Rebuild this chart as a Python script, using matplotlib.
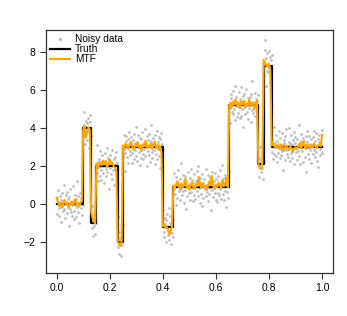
import numpy as np
import matplotlib
matplotlib.use("Agg")
import matplotlib.pyplot as plt
from matplotlib.lines import Line2D

plt.rcParams["font.family"] = ["Liberation Sans", "DejaVu Sans"]

# step function (truth): breakpoints and levels
breaks = [0.0, 0.10, 0.13, 0.15, 0.23, 0.25, 0.40, 0.44, 0.65, 0.76, 0.78, 0.81, 1.0]
levels = [0.0, 4.0, -1.0, 2.0, -2.0, 3.0, -1.2, 0.9, 5.2, 2.1, 7.3, 3.0]

noise = [
    0.31, -0.52, 0.08, 0.77, -0.19, -0.64, 0.42, 0.05, -0.91, 0.23, 0.58, -0.11, -0.36, 1.04, -0.27, 0.14, -0.72, 0.49, 0.02, -0.45,
    0.66, -0.08, 0.29, -1.12, 0.37, -0.23, 0.81, -0.41, 0.12, -0.59, 0.95, 0.18, -0.33, -0.77, 0.51, -0.04, 0.26, -0.68, 1.21, -0.15,
    -0.38, 0.44, -0.96, 0.09, 0.62, -0.21, 0.33, -0.55, 0.73, -0.02, -0.47, 0.19, 0.87, -0.31, -0.83, 0.40, 0.06, -0.63, 0.28, 0.54,
    -0.17, -1.05, 0.35, 0.71, -0.43, 0.13, -0.26, 0.92, -0.69, 0.21, 0.47, -0.12, -0.58, 0.64, 0.01, -0.34, 1.13, -0.79, 0.24, -0.06,
    0.39, -0.49, 0.83, -0.22, -0.71, 0.16, 0.57, -0.37, 0.03, -0.88, 0.69, 0.27, -0.14, -0.53, 0.98, -0.29, 0.11, 0.45, -1.18, 0.32,
    -0.07, 0.61, -0.41, 0.22, -0.66, 0.86, -0.18, 0.36, -0.97, 0.48, 0.07, -0.32, 0.74, -0.56, 0.15, 1.32, -0.24, -0.61, 0.52, -0.03,
    0.25, -0.74, 0.43, -0.16, 0.91, -0.44, -0.09, 0.67, -0.28, -1.26, 0.34, 0.59, -0.51, 0.10, -0.85, 0.46, 0.78, -0.20, -0.39, 0.17,
    0.55, -0.30, -0.82, 0.38, 0.04, 0.72, -0.60, 0.20, -0.13, 1.08, -0.46, 0.30, -0.70, 0.63, -0.25, -0.01, 0.50, -0.93, 0.41, -0.54,
    0.12, 0.80, -0.35, -0.62, 0.27, -0.10, 0.96, -0.48, 0.18, 0.60, -1.01, 0.37, -0.20, 0.70, -0.42, 0.05, -0.78, 0.32, 1.17, -0.26,
    -0.57, 0.21, 0.49, -0.15, -0.89, 0.64, 0.00, -0.37, 0.85, -0.64, 0.28, 0.11, -0.45, 0.53, -1.09, 0.42, -0.05, 0.76, -0.31, 0.19,
    0.88, -0.24, -0.53, 0.46, 0.14, -0.76, 0.35, -0.04, 0.68, -0.39, -0.13, 1.02, -0.67, 0.24, 0.56, -0.87, 0.09, -0.29, 0.40, -0.50,
    -0.11, 0.75, -0.34, 0.03, -0.95, 0.52, 0.31, -0.58, 0.17, 0.89, -0.22, -0.70, 0.44, -0.08, 1.26, -0.41, 0.13, -0.19, 0.62, -0.84,
    0.36, -0.14, 0.58, -1.15, 0.26, 0.07, -0.49, 0.79, -0.33, 0.15, -0.66, 0.47, 0.94, -0.27, -0.02, 0.39, -0.74, 0.22, -0.40, 0.67,
    0.06, -0.62, 0.33, 0.84, -0.18, -0.45, 1.11, -0.05, 0.29, -0.81, 0.50, -0.35, 0.16, -0.99, 0.71, 0.20, -0.56, 0.43, -0.12, 0.08,
    -0.46, 0.97, -0.23, 0.12, 0.63, -0.72, 0.25, -0.36, -0.06, 0.54, -1.22, 0.38, 0.82, -0.16, -0.52, 0.30, 0.01, -0.28, 0.73, -0.65,
    0.41, 0.10, -0.80, 0.57, -0.30, 0.18, -0.43, 0.90, -0.09, -0.61, 0.34, 1.19, -0.38, 0.05, -0.69, 0.48, -0.21, 0.66, -1.03, 0.23,
    -0.25, 0.53, 0.14, -0.55, 0.86, -0.12, -0.92, 0.37, 0.60, -0.32, 0.08, -0.47, 0.77, -0.17, 0.28, -0.78, 1.05, -0.03, 0.45, -0.60,
    0.19, -0.39, 0.70, -0.07, -0.64, 0.32, 0.99, -0.53, 0.13, -0.20, 0.51, -1.14, 0.26, 0.61, -0.44, -0.10, 0.85, -0.34, 0.04, 0.39,
    -0.73, 0.27, -0.15, 0.47, 0.09, -0.86, 0.58, -0.26, 1.28, -0.42, 0.17, 0.03, -0.57, 0.68, -0.31, 0.35, -0.97, 0.21, 0.55, -0.08,
    0.32, -0.68, 0.02, 0.93, -0.40, 0.24, -0.19, -0.75, 0.45, 0.11, -0.50, 0.81, 1.35, -1.07, 0.38, 0.65, -0.27, 0.14, -0.36, 0.74,
    -0.13, 0.44, -0.84, 0.29, 0.56, -0.23, 0.07, -0.62, 1.09, -0.35, 0.20, -0.01, 0.62, -0.48, -0.79, 0.33, 0.15, -0.30, 0.87, -0.54,
    0.49, -0.09, -0.41, 0.76, -0.20, 0.12, -1.19, 0.40, 0.23, -0.67, 0.59, -0.14, 0.95, -0.38, 0.06, -0.52, 0.30, 1.00, -0.71, 0.18,
    -0.32, 0.64, 0.16, -0.58, 0.37, -0.04, 0.80, -0.88, 0.25, 0.52, -0.27, -0.65, 0.43, 0.09, -0.17, 1.16, -0.46, 0.22, -0.90, 0.35,
    0.70, -0.21, -0.03, 0.48, -0.76, 0.31, 0.13, -0.49, 0.58, -1.31, 0.27, 0.84, -0.33, 0.02, 0.61, -0.60, 0.19, -0.12, 0.42, -0.82,
    0.10, 0.53, -0.37, 0.88, -0.15, -0.52, 0.34, 0.74, -0.24, 0.06, -0.70, 0.46, -1.02, 0.28, 0.67, -0.11, -0.43, 0.15, 0.92, -0.29,
]

# MTF estimate: deviation from truth on a 0.005 grid (201 points)
mtf_dev = [
    # level 0
    0.35, 0.12, -0.10, 0.05, -0.18, 0.08, 0.22, -0.05, 0.10, -0.20, 0.02, 0.15, -0.08, 0.05, 0.28, -0.02, 0.06, -0.12, 0.10, 0.18,
    # level 4
    -0.10, 0.10, -0.50, -0.20, 0.05, -0.10,
    # level -1
    0.60, 0.30, 0.10, 0.00,
    # level 2
    0.15, -0.10, 0.05, 0.20, 0.05, 0.30, 0.10, 0.25, -0.05, 0.15, 0.35, 0.10, 0.20, 0.00, -0.10, -0.30,
    # level -2
    0.10, -0.10, -0.20, 0.05,
    # level 3
    0.10, -0.05, 0.20, 0.05, -0.10, 0.15, 0.30, 0.00, -0.15, 0.10, 0.05, 0.25, -0.05, 0.10, -0.20,
    0.15, 0.05, 0.35, -0.05, 0.10, 0.00, 0.20, -0.10, 0.15, 0.30, -0.05, 0.10, -0.15, 0.05, -0.30,
    # level -1.2
    0.05, 0.10, -0.05, 0.00, -0.15, -0.40, -0.20, 0.05,
    # level 0.9
    0.10, -0.05, 0.15, 0.30, 0.05, -0.10, 0.20, 0.00, 0.10, 0.45, -0.05, 0.05, -0.15, 0.10, 0.25, 0.00, -0.10, 0.15, 0.05, 0.55, 0.10,
    -0.05, 0.20, 0.00, 0.10, -0.15, 0.05, 0.30, 0.10, 0.60, 0.05, -0.10, 0.15, 0.00, 0.25, 0.10, -0.05, 0.40, 0.05, 0.15, 0.50, 0.00,
    # level 5.2
    0.00, 0.15, -0.10, 0.20, 0.05, 0.30, -0.05, 0.10, -0.15, 0.20, 0.05, 0.25, -0.10, 0.10, 0.00, 0.30, -0.05, 0.15, 0.05, -0.20, 0.10, 0.25,
    # level 2.1
    0.00, -0.20, -0.25, 0.10,
    # level 7.3
    0.30, 0.15, 0.00, -0.05, 0.05, -0.20,
    # level 3.0
    0.10, 0.25, 0.05, -0.05, 0.10, 0.00, -0.10, 0.15, 0.05, -0.20, 0.00, 0.10, -0.05, -0.15, 0.05, -0.10, -0.25, -0.05, 0.00, -0.10,
    0.05, 0.20, -0.05, 0.10, 0.30, 0.00, -0.10, 0.15, 0.05, -0.05, 0.10, 0.00, 0.20, 0.05, -0.05, 0.10, 0.15, 0.05, 0.65,
]


def truth_at(x):
    idx = np.searchsorted(breaks[1:-1], np.round(x, 6), side="right")
    return np.array(levels)[idx]


x_obs = np.linspace(0, 1, len(noise))
y_obs = truth_at(x_obs) + np.array(noise)

x_mtf = np.linspace(0, 1, len(mtf_dev))
y_mtf = truth_at(x_mtf) + np.array(mtf_dev)

fig = plt.figure(figsize=(3.47, 3.16), dpi=100)
ax = fig.add_axes([0.1326, 0.137, 0.8262, 0.768])

ax.plot(x_obs, y_obs, "o", color="#BEBEBE", markersize=2.0, markeredgewidth=0)
ax.step(breaks, levels + [levels[-1]], where="post", color="black", linewidth=1.6)
ax.plot(x_mtf, y_mtf, color="#FFA500", linewidth=1.5)

ax.set_xlim(-0.04, 1.04)
ax.set_ylim(-3.6, 9.17)
ax.set_xticks([0.0, 0.2, 0.4, 0.6, 0.8, 1.0])
ax.set_xticklabels(["0.0", "0.2", "0.4", "0.6", "0.8", "1.0"])
ax.set_yticks([-2, 0, 2, 4, 6, 8])
ax.set_yticklabels(["\u22122", "0", "2", "4", "6", "8"])
ax.tick_params(direction="out", length=4.5, width=0.8, labelsize=7.5, pad=3, color="#333333")
for s in ax.spines.values():
    s.set_linewidth(0.9)
    s.set_color("#333333")

handles = [
    Line2D([], [], marker="o", linestyle="none", color="#BEBEBE", markersize=2.5, markeredgewidth=0),
    Line2D([], [], color="black", linewidth=1.6),
    Line2D([], [], color="#FFA500", linewidth=1.6),
]
ax.legend(handles, ["Noisy data", "Truth", "MTF"], loc="upper left", frameon=False,
          fontsize=7.3, handlelength=2.0, handletextpad=0.45, labelspacing=0.0,
          borderaxespad=0.3, borderpad=0.1)

fig.savefig("out.png", dpi=100)
